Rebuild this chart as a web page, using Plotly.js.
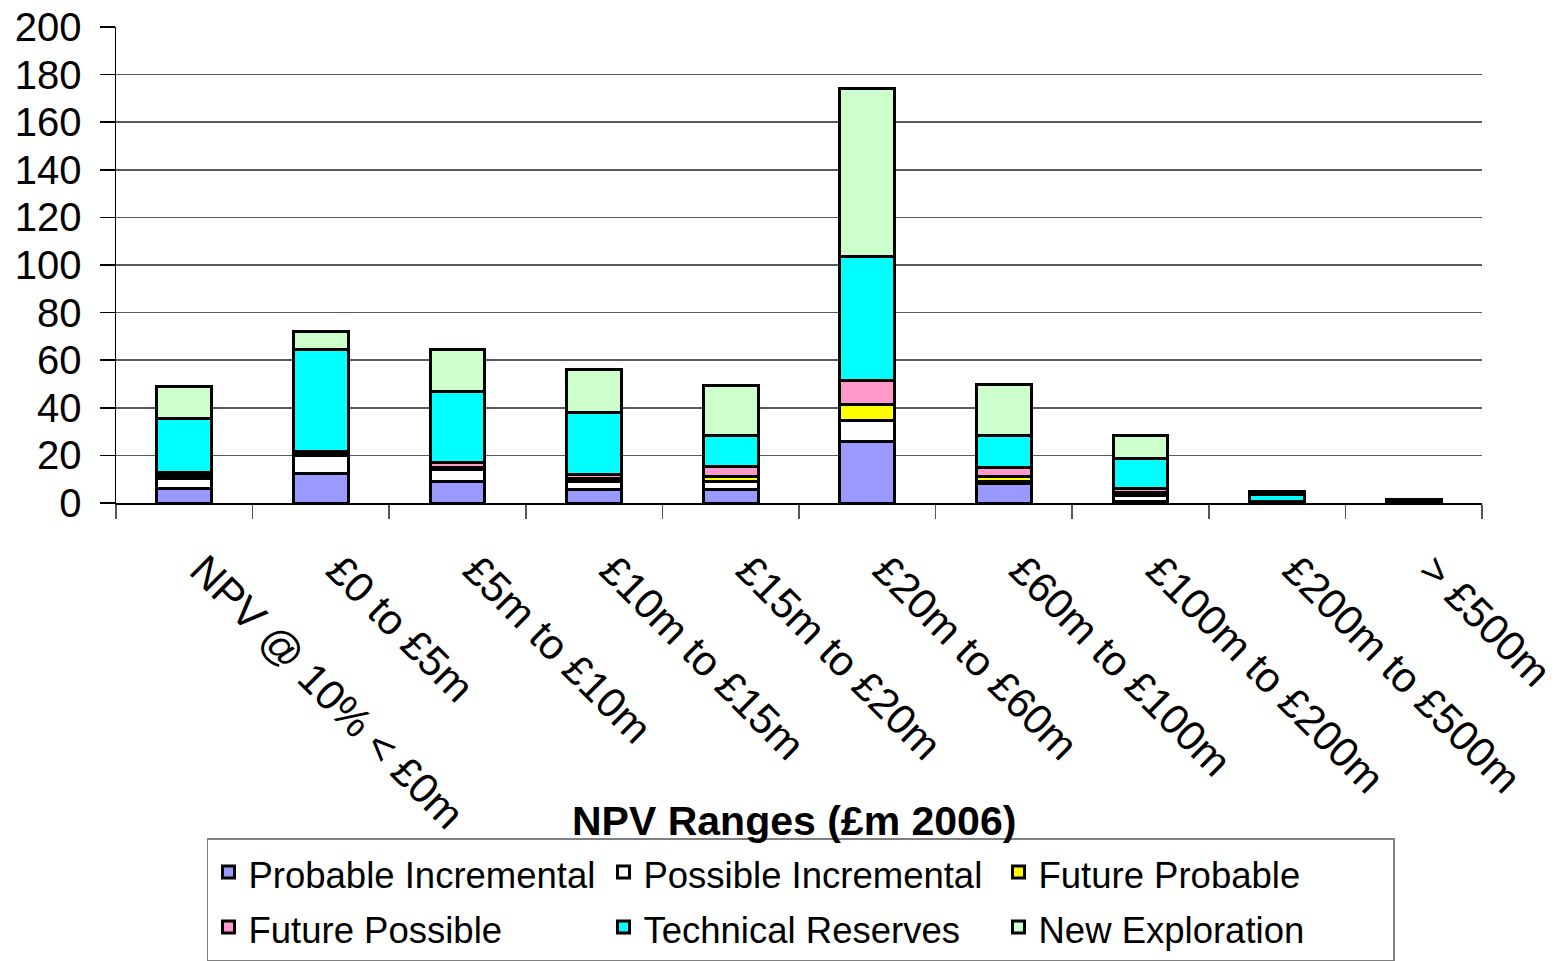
<!DOCTYPE html>
<html>
<head>
<meta charset="utf-8">
<script src="https://cdn.plot.ly/plotly-3.0.1.min.js"></script>
<style>html,body{margin:0;padding:0;background:#fff;}#chart{width:1556px;height:961px;}</style>
</head>
<body>
<div id="chart"></div>
<script>
const categories = ["NPV @ 10% < £0m", "£0 to £5m", "£5m to £10m", "£10m to £15m", "£15m to £20m", "£20m to £60m", "£60m to £100m", "£100m to £200m", "£200m to £500m", "> £500m"];
const probableIncremental = [6, 12.5, 9, 5.5, 5.5, 26, 8, 0.5, 0, 0];
const possibleIncremental = [4.5, 7.5, 5, 3.5, 3.5, 8.5, 1, 2.5, 0, 0];
const futureProbable = [1, 0.5, 1, 1.5, 2, 7, 2, 1.5, 0, 0];
const futurePossible = [1.5, 1, 2, 1.5, 4.5, 10, 4, 1.5, 0.5, 0];
const technicalReserves = [22.5, 43, 30, 26, 13, 52, 13.5, 12.5, 3, 0.5];
const newExploration = [13.5, 7.5, 17.5, 18, 21, 70.5, 21.5, 10, 1.5, 1];
const seriesNames = ["Probable Incremental", "Possible Incremental", "Future Probable", "Future Possible", "Technical Reserves", "New Exploration"];
const seriesColors = ["#9999FF", "#FFFFFF", "#FFFF00", "#FF99CC", "#00FFFF", "#CCFFCC"];
const seriesValues = [probableIncremental, possibleIncremental, futureProbable, futurePossible, technicalReserves, newExploration];
const yTicks = [0, 20, 40, 60, 80, 100, 120, 140, 160, 180, 200];
const xTitle = "NPV Ranges (£m 2006)";

const FONT = "Liberation Sans, Arial, sans-serif";
const traces = seriesNames.map((name, i) => ({
  type: "bar",
  name: '<span style="font-size:36.5px">' + name + '</span>',
  x: categories,
  y: seriesValues[i].map(v => v === 0 ? null : v),
  marker: {color: seriesColors[i], line: {color: "#000", width: 3}},
  hoverinfo: "x+y"
}));

const layout = {
  width: 1556, height: 961,
  margin: {l: 116, r: 74, t: 27, b: 458, autoexpand: false},
  barmode: "stack",
  bargap: 0.6,
  paper_bgcolor: "#fff", plot_bgcolor: "#fff",
  font: {family: FONT, color: "#000", size: 36},
  showlegend: true,
  xaxis: {
    type: "category",
    tickangle: 45,
    tickson: "boundaries",
    ticks: "outside", ticklen: 14, tickcolor: "#555", tickwidth: 1.5,
    showline: true, linecolor: "#000", linewidth: 1.5,
    showgrid: false,
    tickfont: {family: FONT, size: 42, color: "#000"},
    ticklabelstandoff: 24,
    ticklabelshift: 18,
    automargin: false
  },
  yaxis: {
    range: [0, 200],
    tickvals: yTicks,
    ticks: "outside", ticklen: 15, tickcolor: "#000", tickwidth: 1.5,
    showline: true, linecolor: "#000", linewidth: 1.5,
    showgrid: true, gridcolor: "#5a5a5a", gridwidth: 1.5,
    zeroline: false,
    tickfont: {family: FONT, size: 40, color: "#000"},
    ticklabelstandoff: 10,
    automargin: false
  },
  annotations: [{
    text: "<b>" + xTitle + "</b>",
    xref: "paper", yref: "paper",
    x: 0.496, y: -0.615, xanchor: "center", yanchor: "top",
    showarrow: false,
    font: {family: FONT, size: 41, color: "#000"}
  }],
  legend: {
    orientation: "h",
    x: 0.0666, y: -0.704, xanchor: "left", yanchor: "top",
    bgcolor: "#fff", bordercolor: "#808080", borderwidth: 1.5,
    font: {family: FONT, size: 40, color: "#000"},
    entrywidth: 350, entrywidthmode: "pixels",
    traceorder: "normal",
    itemwidth: 30
  }
};

Plotly.newPlot("chart", traces, layout, {displayModeBar: false, staticPlot: true});
</script>
</body>
</html>
